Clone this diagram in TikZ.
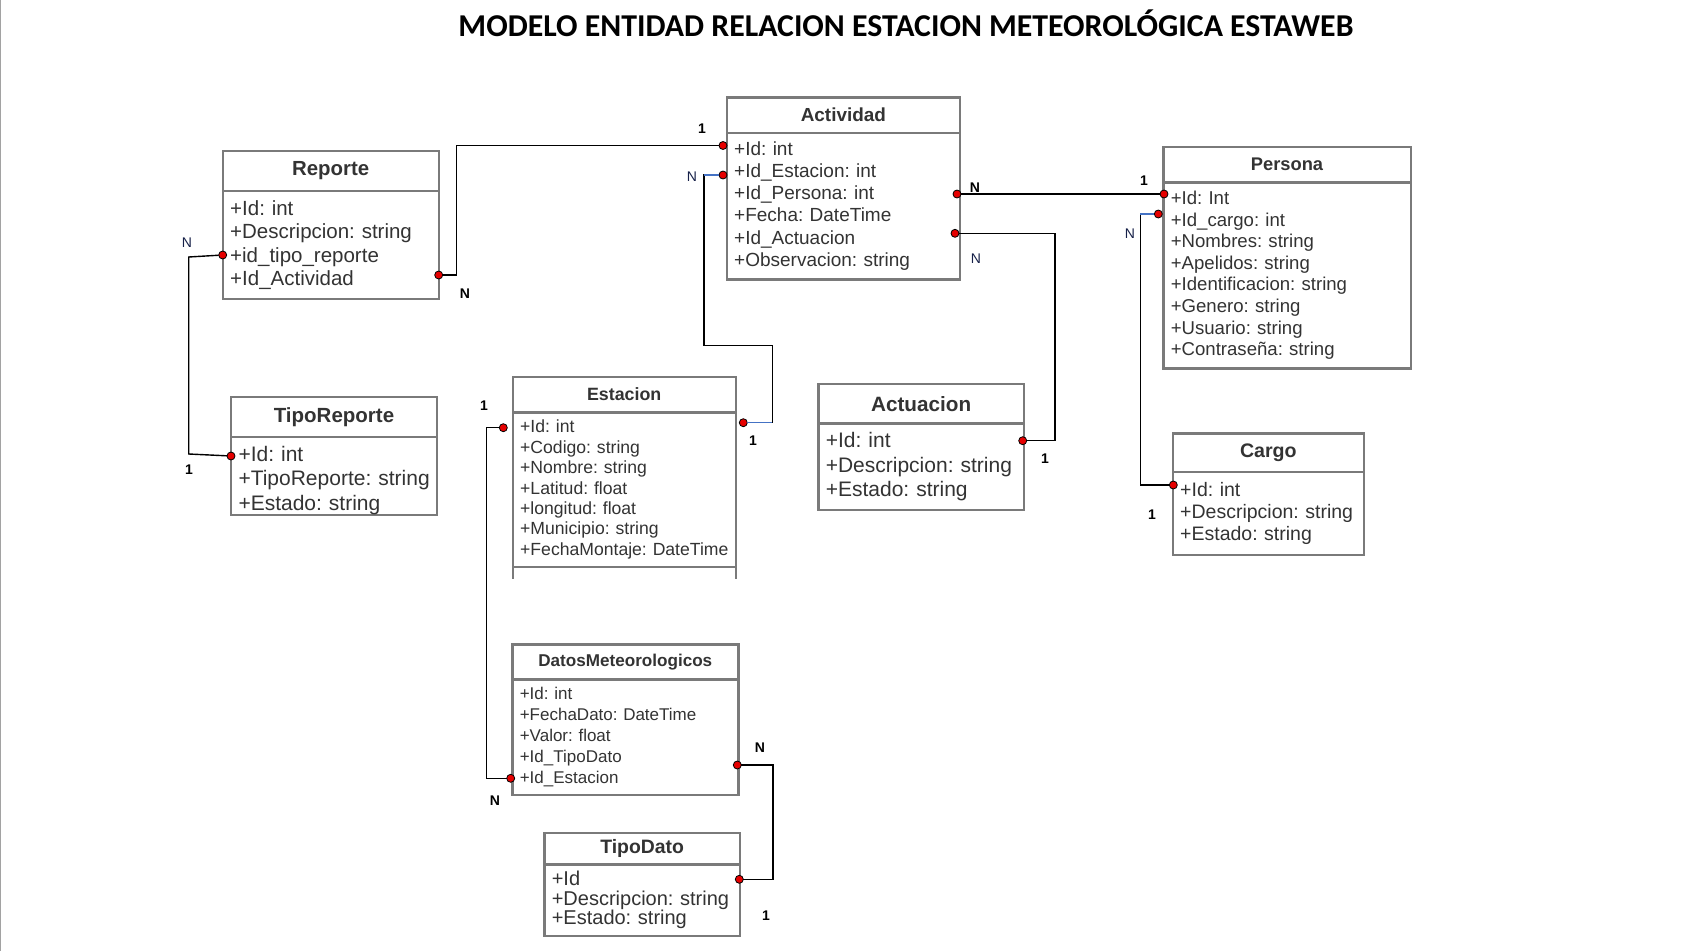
\documentclass[tikz,border=0pt]{standalone}
\usepackage{fontspec}
\setmainfont{Liberation Sans}
\newfontfamily\titlefont{Carlito}
\usetikzlibrary{positioning}
\definecolor{cBox}  {RGB}{122,122,122}
\definecolor{cTxt}  {RGB}{ 51, 51, 51}
\definecolor{cBlue} {RGB}{ 68,114,196}
\definecolor{cNavy} {RGB}{ 22, 32, 72}
\definecolor{cDot}  {RGB}{230,  0,  0}
\newcommand\pxfont[2]{\fontsize{#1}{#2}\selectfont}
\frenchspacing

\begin{document}
\begin{tikzpicture}[
  x=1pt, y=-1pt,
  %% ── entity header ─────────────────────────────────────────────────────
  H/.style={
    draw=cBox, line width=2.4pt, fill=white,
    minimum width=#1, inner sep=0pt, outer sep=0pt,
    anchor=north west, text=cTxt
  },
  %% ── entity attributes ─────────────────────────────────────────────────
  B/.style={
    draw=cBox, line width=2.4pt, fill=white,
    text width=#1, inner xsep=7.5pt, inner ysep=0pt, outer sep=0pt,
    anchor=north west, align=left, text=cTxt,
    execute at begin node={\rightskip=0pt plus 1fil minus 40pt\relax
                           \hyphenpenalty=10000\relax\frenchspacing}
  },
  %% ── key dot ───────────────────────────────────────────────────────────
  P/.style={circle, fill=cDot, draw=black, line width=0.8pt,
            minimum size=8pt, inner sep=0pt, outer sep=0pt},
  %% ── relation line ─────────────────────────────────────────────────────
  C/.style={draw=black, line width=1.4pt},
  Cb/.style={draw=cBlue, line width=1.4pt},
  %% ── cardinality labels ────────────────────────────────────────────────
  Mb/.style={font=\bfseries\pxfont{14}{16}, text=black, inner sep=0pt},
  Mn/.style={font=\pxfont{14}{16}, text=cNavy, inner sep=0pt},
]
\useasboundingbox (0,0) rectangle (1694,951);
\draw[cBox!70, line width=1.2pt] (0.8,0) -- (0.8,951);

%% ═══════════════════════════════════════════════════════════════════════
%%  TITLE
%% ═══════════════════════════════════════════════════════════════════════

\node[font=\titlefont\bfseries\pxfont{31.8}{36}] (title) at (906,23)
  {MODELO ENTIDAD RELACION ESTACION METEOROLÓGICA ESTAWEB};

%% ═══════════════════════════════════════════════════════════════════════
%%  ENTITIES
%% ═══════════════════════════════════════════════════════════════════════

%% Reporte
\node[H=216, minimum height=40, font=\bfseries\pxfont{20.4}{24}] (rep) at (222.7,151) {Reporte};
\node[B=201, minimum height=108, font=\pxfont{20.5}{23.5}] (rep-b) at (rep.south west) {%
  +Id: int\\+Descripcion: string\\+id\_tipo\_reporte\\+Id\_Actividad};

%% TipoReporte (rows sit low in their box)
\node[H=206, minimum height=40, font=\bfseries\pxfont{20.5}{24}] (tr) at (231,397) {TipoReporte};
\node[B=191, minimum height=78, font=\pxfont{21}{24.2}] (tr-b) at (tr.south west) {%
  \rule{0pt}{24pt}+Id: int\\+TipoReporte: string\\+Estado: string};

%% Actividad
\node[H=233.3, minimum height=35.4, font=\bfseries\pxfont{18.9}{22}] (act) at (726.7,97.3) {Actividad};
\node[B=218.3, minimum height=146.6, font=\pxfont{19}{22.1}] (act-b) at (act.south west) {%
  +Id: int\\+Id\_Estacion: int\\+Id\_Persona: int\\+Fecha: DateTime\\%
  +Id\_Actuacion\\+Observacion: string};

%% Persona
\node[H=247.4, minimum height=35.6, font=\bfseries\pxfont{18.3}{22}] (per) at (1163.3,146.7) {Persona};
\node[B=232.4, minimum height=186, font=\pxfont{18.6}{21.6}] (per-b) at (per.south west) {%
  +Id: Int\\+Id\_cargo: int\\+Nombres: string\\+Apelidos: string\\%
  +Identificacion: string\\+Genero: string\\+Usuario: string\\+Contraseña: string};

%% Cargo
\node[H=191.3, minimum height=38.4, font=\bfseries\pxfont{19.6}{23}] (car) at (1172.7,433.3) {Cargo};
\node[B=176.3, minimum height=83.3, font=\pxfont{19.5}{21.7}] (car-b) at (car.south west) {%
  +Id: int\\+Descripcion: string\\+Estado: string};

%% Estacion
\node[H=223, minimum height=35.6, font=\bfseries\pxfont{17.8}{21}] (est) at (512.7,376.7) {Estacion};
\node[B=208, minimum height=154.4, font=\pxfont{17.6}{20.4}] (est-b) at (est.south west) {%
  +Id: int\\+Codigo: string\\+Nombre: string\\+Latitud: float\\+longitud: float\\%
  +Municipio: string\\+FechaMontaje: DateTime};
\draw[cBox, line width=2.4pt] (est-b.south west) -- ++(0,12.3);
\draw[cBox, line width=2.4pt] (est-b.south east) -- ++(0,12.3);

%% Actuacion
\node[H=205.7, minimum height=39.3, font=\bfseries\pxfont{20.7}{24}] (actu) at (818.3,384) {Actuacion};
\node[B=190.7, minimum height=86.7, font=\pxfont{21}{24.2}] (actu-b) at (actu.south west) {%
  +Id: int\\+Descripcion: string\\+Estado: string};

%% DatosMeteorologicos
\node[H=226, minimum height=35, font=\bfseries\pxfont{17.1}{20}] (dm) at (512.3,644.3) {DatosMeteorologicos};
\node[B=211, minimum height=115.7, font=\pxfont{17}{21}] (dm-b) at (dm.south west) {%
  +Id: int\\+FechaDato: DateTime\\+Valor: float\\+Id\_TipoDato\\+Id\_Estacion};

%% TipoDato
\node[H=195.7, minimum height=31.6, font=\bfseries\pxfont{19.4}{22}] (td) at (544.3,832.7) {TipoDato};
\node[B=180.7, minimum height=71.7, font=\pxfont{20}{19.5}] (td-b) at (td.south west) {%
  +Id\\+Descripcion: string\\+Estado: string};

%% ═══════════════════════════════════════════════════════════════════════
%%  KEY DOTS
%% ═══════════════════════════════════════════════════════════════════════

\node[P] (rep-tipo)  at (222.7,255)   {};
\node[P] (rep-act)   at (438.7,275)   {};
\node[P] (tr-id)     at (231,456)     {};
\node[P] (act-id)    at (723,145.5)   {};
\node[P] (act-est)   at (723,175)     {};
\node[P] (act-per)   at (957,194)     {};
\node[P] (act-actu)  at (955,233.3)   {};
\node[P] (per-id)    at (1164,194)    {};
\node[P] (per-cargo) at (1158.3,214)  {};
\node[P] (car-id)    at (1173.3,485)  {};
\node[P] (est-l)     at (503.3,427.7) {};
\node[P] (est-id)    at (743.3,422.7) {};
\node[P] (actu-id)   at (1022.7,440.7){};
\node[P] (dm-est)    at (510.7,778.3) {};
\node[P] (dm-td)     at (737.3,765)   {};
\node[P] (td-id)     at (739.3,879.3) {};

%% ═══════════════════════════════════════════════════════════════════════
%%  RELATIONS
%% ═══════════════════════════════════════════════════════════════════════

\draw[C] (rep-act) -- ++(18,0) |- (act-id);
\draw[C] (rep-tipo) -- ++(-34,2) -- ++(0,197) -- (tr-id);

\draw[C] (act-est) -- ++(-19,0) -- ++(0,170.7) -| ([xshift=29pt]est-id.center) -- (est-id);
\draw[Cb] (act-est) -- ++(-19,0);
\draw[Cb] (est-id) -- ++(29,0);

\draw[C] (act-per) -- (per-id);
\draw[C] (act-actu) -- ++(100,0) |- (actu-id);

\draw[C] (per-cargo) -- ++(-18,0) |- (car-id);
\draw[Cb] (per-cargo) -- ++(-18,0);

\draw[C] (est-l) -- ++(-17,0) |- (dm-est);
\draw[C] (dm-td) -- ++(35.5,0) |- (td-id);

%% ── cardinalities ──────────────────────────────────────────────────────
\node[Mn] (m-rep-tipo)  at (187,243)  {N};
\node[Mb] (m-rep-act)   at (465,294)  {N};
\node[Mb] (m-tr-id)     at (189,470)  {1};
\node[Mb] (m-act-id)    at (702,129)  {1};
\node[Mn] (m-act-est)   at (692,177)  {N};
\node[Mb] (m-act-per)   at (975,188)  {N};
\node[Mn] (m-act-actu)  at (976,259)  {N};
\node[Mb] (m-per-id)    at (1144,181) {1};
\node[Mn] (m-per-cargo) at (1130,234) {N};
\node[Mb] (m-car-id)    at (1152,515) {1};
\node[Mb] (m-est-id)    at (753,441)  {1};
\node[Mb] (m-est-l)     at (484,406)  {1};
\node[Mb] (m-actu-id)   at (1045,459) {1};
\node[Mb] (m-dm-est)    at (495,801)  {N};
\node[Mb] (m-dm-td)     at (760,748)  {N};
\node[Mb] (m-td-id)     at (766,916)  {1};

\end{tikzpicture}
\end{document}
